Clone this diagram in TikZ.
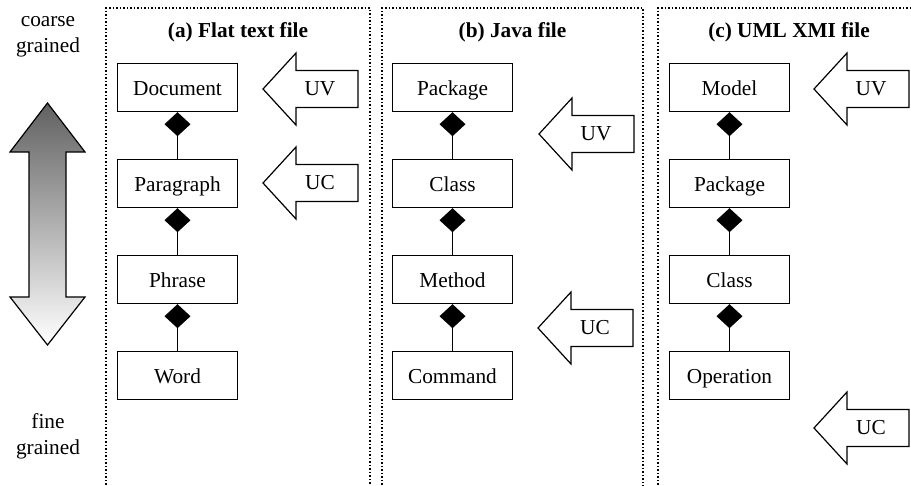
\documentclass[tikz,border=0pt]{standalone}
\usepackage{fontspec}
\setmainfont{Liberation Serif}
\usetikzlibrary{arrows.meta}
\newcommand{\dgfont}{\fontsize{21.3}{25.6}\selectfont}
\begin{document}
\begin{tikzpicture}[x=1pt,y=-1pt,
  box/.style={draw, line width=1.2pt, minimum width=120pt, minimum height=48pt,
    text height=15pt, text depth=0pt, inner sep=0pt, anchor=north, font=\dgfont},
  comp/.style={line width=1.2pt, -{Diamond[length=24pt,width=26pt,fill=black]}},
  panel/.style={line width=1.5pt, dash pattern=on 1.5pt off 2pt},
  title/.style={font=\dgfont\bfseries, anchor=base},
  lbl/.style={font=\dgfont, inner sep=0pt},
  side/.style={font=\dgfont, align=center, inner sep=0pt},
  blockarrow/.pic={\draw[line width=1.2pt, fill=white, line join=miter]
    (0,0) -- (33,-36) -- (33,-18.5) -- (95,-18.5) -- (95,18.5) -- (33,18.5) -- (33,36) -- cycle;}
]
\useasboundingbox (0,0) rectangle (911,485);
\clip (0,0) rectangle (911,485);

% big gradient arrow
\path[draw=black, line width=1.2pt, top color=black!62, bottom color=white, line join=miter]
  (47.5,103) -- (85,152) -- (66,152) -- (66,297) -- (85,297) -- (47.5,345)
  -- (10,297) -- (29,297) -- (29,152) -- (10,152) -- cycle;
\node[side] (coarse) at (48,37) {coarse\\grained};
\node[side] (fine) at (48,436) {fine\\grained};

% panels
\draw[panel] (106,495) -- (106,8) -- (370,8) -- (370,495);
\draw[panel] (382,495) -- (382,8) -- (643,8) -- (643,495);
\draw[panel] (658,495) -- (658,8) -- (925,8) -- (925,495);

\node[title] (ta) at (238,37) {(a) Flat text file};
\node[title] (tb) at (512.5,37) {(b) Java file};
\node[title] (tc) at (789,37) {(c) UML XMI file};

% panel (a)
\node[box] (a1) at (177.5,63) {Document};
\node[box] (a2) at (177.5,159) {Paragraph};
\node[box] (a3) at (177.5,255) {Phrase};
\node[box] (a4) at (177.5,351) {Word};
\draw[comp] (a2) -- (a1);
\draw[comp] (a3) -- (a2);
\draw[comp] (a4) -- (a3);

% panel (b)
\node[box] (b1) at (452.5,63) {Package};
\node[box] (b2) at (452.5,159) {Class};
\node[box] (b3) at (452.5,255) {Method};
\node[box] (b4) at (452.5,351) {Command};
\draw[comp] (b2) -- (b1);
\draw[comp] (b3) -- (b2);
\draw[comp] (b4) -- (b3);

% panel (c)
\node[box] (c1) at (729.5,63) {Model};
\node[box] (c2) at (729.5,159) {Package};
\node[box] (c3) at (729.5,255) {Class};
\node[box] (c4) at (729.5,351) {Operation};
\draw[comp] (c2) -- (c1);
\draw[comp] (c3) -- (c2);
\draw[comp] (c4) -- (c3);

% block arrows
\pic at (263,89) {blockarrow};
\node[lbl] (auv) at (320,89) {UV};
\pic at (263,183) {blockarrow};
\node[lbl] (auc) at (320,183) {UC};
\pic at (539,134) {blockarrow};
\node[lbl] (buv) at (596,134) {UV};
\pic at (538,328) {blockarrow};
\node[lbl] (buc) at (595,328) {UC};
\pic at (814,89) {blockarrow};
\node[lbl] (cuv) at (871,89) {UV};
\pic at (814,428) {blockarrow};
\node[lbl] (cuc) at (871,428) {UC};
\end{tikzpicture}
\end{document}
